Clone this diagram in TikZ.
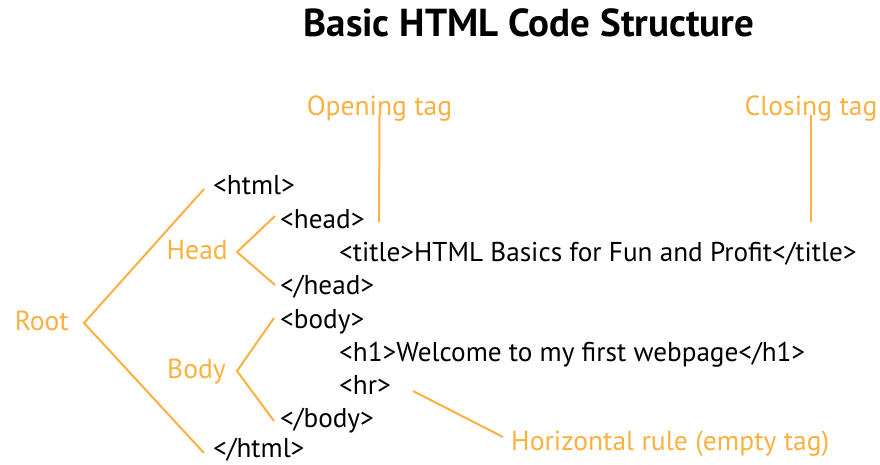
\documentclass[tikz,border=0pt]{standalone}
\usepackage{fontspec}
\setmainfont{PT Sans}
\usetikzlibrary{positioning}
\definecolor{tagorange}{RGB}{251,176,64}

\begin{document}
\begin{tikzpicture}[x=1pt,y=-1pt,
 code/.style={anchor=base west,inner sep=0pt,text height=20pt,text depth=6pt,font=\fontsize{27.2}{32}\selectfont},
 lbl/.style={code,text=tagorange,font=\fontsize{27.6}{32}\selectfont},
 brk/.style={draw=tagorange,line width=2pt}]
\useasboundingbox (0,0) rectangle (880,464);
\node[anchor=center,font=\fontsize{39}{44}\selectfont\bfseries] (ttl) at (529,23) {Basic HTML Code Structure};
% code lines
\node[code] (html) at (213,194.5) {<html>};
\node[code] (head) at (280,228) {<head>};
\node[code] (title) at (339,261.5) {<title>HTML Basics for Fun and Profit</title>};
\node[code] (endhead) at (280,294) {</head>};
\node[code] (body) at (280,328) {<body>};
\node[code] (h1) at (339,361.5) {<h1>Welcome to my first webpage</h1>};
\node[code] (hr) at (339,394.5) {<hr>};
\node[code] (endbody) at (280,427.5) {</body>};
\node[code] (endhtml) at (213,457) {</html>};
% labels
\node[lbl,anchor=base east] (root) at (69,330) {Root};
\node[lbl,anchor=base east] (headlbl) at (228,259) {Head};
\node[lbl,anchor=base east] (bodylbl) at (226,378) {Body};
\node[lbl,anchor=base] (opentag) at (379.5,115) {Opening tag};
\node[lbl,anchor=base] (closetag) at (811,115) {Closing tag};
\node[lbl] (hrule) at (511,450) {Horizontal rule (empty tag)};
\coordinate (openend) at (379,222);
\coordinate (closeend) at (811,222);
% brackets
\draw[brk] ([shift={(-9,1.5)}]html.west) -- ([xshift=15]root.east) -- ([shift={(-9,3)}]endhtml.west);
\draw[brk] ([shift={(-5,-5)}]head.west) -- ([xshift=9]headlbl.east) -- ([shift={(-5,-2)}]endhead.west);
\draw[brk] ([shift={(-6,-3)}]body.west) -- ([xshift=11]bodylbl.east) -- ([shift={(-6,0.5)}]endbody.west);
\draw[brk] ([yshift=6]opentag.south) -- (openend);
\draw[brk] ([yshift=6]closetag.south) -- (closeend);
\draw[brk] ([shift={(22,3.5)}]hr.east) -- ([shift={(-8,-6)}]hrule.west);
\end{tikzpicture}
\end{document}
